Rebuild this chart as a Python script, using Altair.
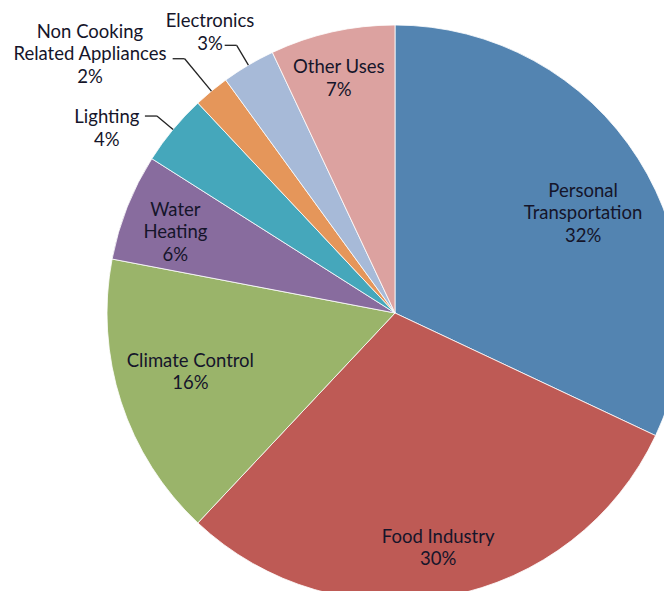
import altair as alt
import pandas as pd

# ---- data ----
categories = [
    "Personal Transportation", "Food Industry", "Climate Control", "Water Heating",
    "Lighting", "Non Cooking Related Appliances", "Electronics", "Other Uses",
]
values = [32, 30, 16, 6, 4, 2, 3, 7]
label_lines = [
    "Personal\nTransportation", "Food Industry", "Climate Control", "Water\nHeating",
    "Lighting", "Non Cooking\nRelated Appliances", "Electronics", "Other Uses",
]

# ---- style ----
colors = ["#5384B1", "#BE5A55", "#9AB46A", "#886C9E", "#45A7BB", "#E5965A", "#A7BAD8", "#DCA2A0"]
label_radius = [213, 239, 213, 234, 342, 400, 336, 241]      # px from centre
label_shift = [4.4, 0.4, 1.9, -1.4, -7.0, -10.1, -2.8, -0.9]  # degrees vs slice middle
leader_elbow = [0, 0, 0, 0, 309, 330, 311, 0]                # 0 = no leader line
CX, CY, R = 387, 305, 288
W, H = 656, 583
FONT = "Lato"
FS, LH = 18.5, 22.5

texts = [f"{l}\n{v}%" for l, v in zip(label_lines, values)]
df = pd.DataFrame({
    "category": categories,
    "value": values,
    "order": list(range(len(categories))),
    "text": texts,
    "nl": [t.count("\n") + 1 for t in texts],
    "lr": label_radius,
    "shift": label_shift,
    "er": leader_elbow,
})

base = alt.Chart(df)

pie = base.mark_arc(outerRadius=R, stroke="#ffffff", strokeWidth=0.8).encode(
    theta=alt.Theta("value:Q", stack=True),
    order=alt.Order("order:Q"),
    color=alt.Color("category:N", scale=alt.Scale(domain=categories, range=colors), legend=None),
    x=alt.value(CX),
    y=alt.value(CY),
)

geo = base.transform_joinaggregate(total="sum(value)").transform_window(
    cum="sum(value)", sort=[alt.SortField("order")], frame=[None, 0]
).transform_calculate(
    amid="2*PI*(datum.cum - datum.value/2)/datum.total",
).transform_calculate(
    alab="datum.amid + datum.shift*PI/180",
).transform_calculate(
    tx=f"{CX} + datum.lr*sin(datum.alab)",
    ty=f"{CY} - datum.lr*cos(datum.alab) - (datum.nl - 1)*{LH}/2",
    x1=f"{CX} + {R}*sin(datum.amid)",
    y1=f"{CY} - {R}*cos(datum.amid)",
    ex=f"{CX} + datum.er*sin(datum.amid)",
    ey=f"{CY} - datum.er*cos(datum.amid)",
).transform_calculate(
    hx="datum.ex - 12",
)

labels = geo.mark_text(
    font=FONT, fontSize=FS, lineBreak="\n", lineHeight=LH,
    align="center", baseline="middle", color="#15152a",
).encode(
    x=alt.X("tx:Q", scale=None),
    y=alt.Y("ty:Q", scale=None),
    text="text:N",
)

leaders = geo.transform_filter("datum.er > 0")
diag = leaders.mark_rule(color="#222222", strokeWidth=1.3).encode(
    x=alt.X("x1:Q", scale=None), y=alt.Y("y1:Q", scale=None),
    x2="ex:Q", y2="ey:Q",
)
horiz = leaders.mark_rule(color="#222222", strokeWidth=1.3).encode(
    x=alt.X("ex:Q", scale=None), y=alt.Y("ey:Q", scale=None),
    x2="hx:Q", y2="ey:Q",
)

chart = alt.layer(pie, diag, horiz, labels).properties(
    width=W, height=H, padding=0, autosize=alt.AutoSizeParams(type="none"),
).configure_view(stroke=None)

chart.save("out.html", embed_options={"renderer": "svg", "actions": False})
